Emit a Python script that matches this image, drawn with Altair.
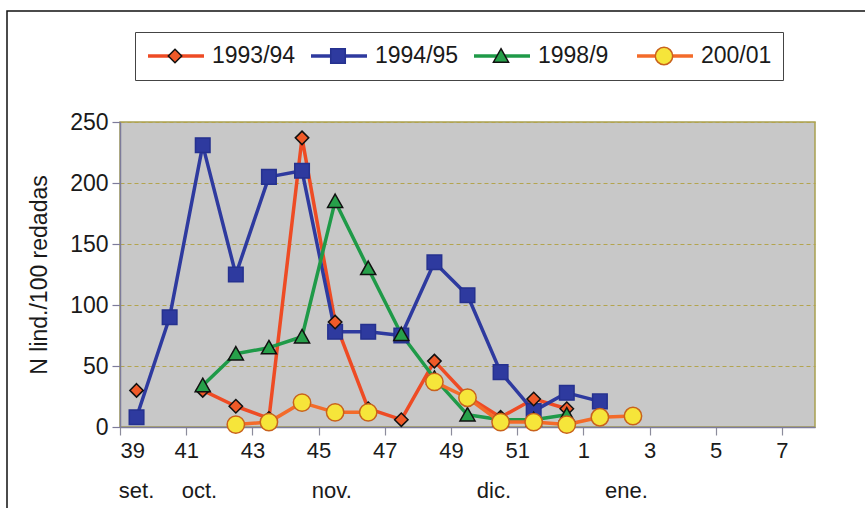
import altair as alt
import pandas as pd

# ---------------- data ----------------
semanas = [39, 40, 41, 42, 43, 44, 45, 46, 47, 48, 49, 50, 51, 52, 1, 2]
series = ["1993/94", "1994/95", "1998/9", "200/01"]
s9394 = [30, None, 30, 17, 7, 237, 86, 15, 6, 54, 25, 8, 23, 15, None, None]
s9495 = [8, 90, 231, 125, 205, 210, 78, 78, 75, 135, 108, 45, 13, 28, 21, None]
s9899 = [None, None, 34, 60, 65, 74, 185, 130, 76, 40, 10, 6, 6, 10, None, None]
s0001 = [None, None, None, 2, 4, 20, 12, 12, None, 37, 24, 4, 4, 2, 8, 9]
valores = [s9394, s9495, s9899, s0001]

x_ticks = list(range(39, 61))          # week boundaries (53 = week 1 ...)
y_ticks = [0, 50, 100, 150, 200, 250]
meses = ["set.", "oct.", "nov.", "dic.", "ene."]
mes_semana = [39.5, 41.4, 45.4, 50.3, 54.3]

# ---------------- styles ----------------
line_colors = ["#ee4b24", "#2e3a9f", "#1f9a48", "#f36b2a"]
fill_colors = ["#f05a28", "#2e3a9f", "#27a04a", "#f6e53a"]
stroke_colors = ["#111111", "#25318f", "#111111", "#c9621c"]
shape_paths = [
    "M0,-0.24L0.24,0L0,0.24L-0.24,0Z",
    "M-0.26,-0.26H0.26V0.26H-0.26Z",
    "M0,-0.26L0.27,0.22L-0.27,0.22Z",
    "M-0.31,0A0.31,0.31 0 1,0 0.31,0A0.31,0.31 0 1,0 -0.31,0Z",
]
FONT = "Liberation Sans"
TXT = "#1a1a1a"
W, H = 695, 305

# ---------------- build tables ----------------
rows = []
for name, vals in zip(series, valores):
    seg = 0
    for w, v in zip(semanas, vals):
        if v is None:
            seg += 1
            continue
        rows.append({"serie": name, "semana": w if w >= 39 else w + 52,
                     "valor": v, "tramo": f"{name}-{seg}"})
df = pd.DataFrame(rows)
point_order = ["1994/95", "1993/94", "1998/9", "200/01"]
df_pts = pd.concat([df[df.serie == s] for s in point_order], ignore_index=True)
df_mes = pd.DataFrame({"mes": meses, "semana": mes_semana})

xscale = alt.Scale(domain=[39, 60], nice=False, zero=False)
yscale = alt.Scale(domain=[0, 250], nice=False, zero=True)

x_axis = alt.Axis(
    values=x_ticks,
    labelExpr="datum.value % 2 == 1 ? (datum.value > 52 ? datum.value - 52 : datum.value) : ''",
    labelFlush=True, labelOverlap=False, grid=False,
    tickSize=8, tickColor="#8c8c9c", tickWidth=1.2,
    domainColor="#7d7b9a", domainWidth=1.5,
    labelFont=FONT, labelFontSize=22, labelColor=TXT, labelPadding=5,
    title=None,
)
y_axis = alt.Axis(
    values=y_ticks, grid=True, gridColor="#b3a44e", gridDash=[4, 3], gridWidth=1,
    tickSize=8, tickColor="#7d7b9a", tickWidth=1.2,
    domainColor="#7d7b9a", domainWidth=1.5,
    labelFont=FONT, labelFontSize=23, labelColor=TXT, labelPadding=4,
    title="N  lind./100 redadas", titleFont=FONT, titleFontSize=23,
    titleFontWeight="normal", titleColor=TXT, titlePadding=18,
)

common_legend = dict(
    orient="none", legendX=15, legendY=-90, direction="horizontal",
    title=None, symbolSize=3136, clipHeight=26,
    labelFont=FONT, labelFontSize=23, labelOffset=6,
    padding=11, gridAlign="all",
)
leg_lines = alt.Legend(symbolType="M-1,0H1", symbolStrokeWidth=3.5,
                       fillColor="white", strokeColor="#444444",
                       labelColor=TXT, columnPadding=13, **common_legend)
leg_pts = alt.Legend(symbolStrokeWidth=1.5, labelExpr="''",
                     columnPadding=99, **common_legend)

lines = alt.Chart(df).transform_calculate(xpos="datum.semana + 0.5").mark_line(
    strokeWidth=3.5, strokeJoin="round"
).encode(
    x=alt.X("xpos:Q", scale=xscale, axis=x_axis),
    y=alt.Y("valor:Q", scale=yscale, axis=y_axis),
    color=alt.Color("serie:N", scale=alt.Scale(domain=series, range=line_colors),
                    legend=leg_lines),
    detail="tramo:N",
)

points = alt.Chart(df_pts).transform_calculate(xpos="datum.semana + 0.5").mark_point(
    filled=True, size=3136, strokeWidth=1.5, opacity=1
).encode(
    x=alt.X("xpos:Q", scale=xscale),
    y=alt.Y("valor:Q", scale=yscale),
    shape=alt.Shape("serie:N", scale=alt.Scale(range=shape_paths), legend=leg_pts),
    fill=alt.Fill("serie:N", scale=alt.Scale(range=fill_colors), legend=leg_pts),
    stroke=alt.Stroke("serie:N", scale=alt.Scale(range=stroke_colors), legend=leg_pts),
)

month_text = alt.Chart(df_mes).mark_text(
    font=FONT, fontSize=22, color=TXT, align="center", baseline="alphabetic"
).encode(
    x=alt.X("semana:Q", scale=xscale),
    y=alt.value(H + 71),
    text="mes:N",
)

frame = alt.Chart(pd.DataFrame({"k": [0]})).mark_rect(
    filled=False, stroke="#111111", strokeWidth=1.5
).encode(
    x=alt.value(-113), x2=alt.value(W + 70),
    y=alt.value(-111), y2=alt.value(H + 110),
)

chart = alt.layer(frame, lines, points, month_text).properties(
    width=W, height=H,
    autosize=alt.AutoSizeParams(type="none"),
    padding={"left": 120, "top": 122, "right": 50, "bottom": 81},
    background="white",
).configure_view(
    fill="#c8c8c8", stroke="#a8a050", strokeWidth=1.5
)

chart.save("out.html", embed_options={"renderer": "svg", "actions": False})
